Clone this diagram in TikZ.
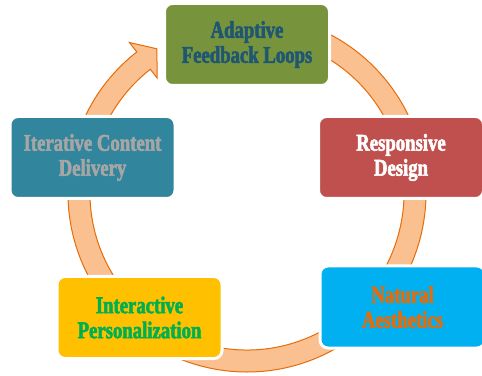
\documentclass[tikz,border=0pt]{standalone}
\usepackage{fontspec}
\usepackage{tikz}
\usetikzlibrary{
    positioning,      % For placing nodes relative to each other
    calc              % For coordinate calculations
}
% Heavy condensed face for the stage labels
\newfontfamily\stagefont[FakeStretch=0.78,FakeBold=2.2]{Liberation Serif}

\definecolor{OliveStage}{HTML}{77933C}
\definecolor{BrickStage}{HTML}{C0504D}
\definecolor{SkyStage}{HTML}{00B0F0}
\definecolor{AmberStage}{HTML}{FFC000}
\definecolor{TealStage}{HTML}{31859C}
\definecolor{DeepTeal}{HTML}{1F5773}
\definecolor{LeafGreen}{HTML}{00B050}
\definecolor{RingFill}{HTML}{FAC090}
\definecolor{RingLine}{HTML}{E46C0A}

\tikzset{
    % A rounded box for each stage of the cycle
    stage_node/.style={
        rectangle, rounded corners=8pt, draw=white, line width=3pt,
        minimum width=165pt, minimum height=82pt, inner sep=2pt,
        align=center, font=\stagefont\bfseries\fontsize{24}{25}\selectfont
    },
    % Colour variants for the stages
    olive_stage/.style={fill=OliveStage, text=DeepTeal},
    brick_stage/.style={fill=BrickStage, text=white},
    sky_stage/.style={fill=SkyStage, text=RingLine},
    amber_stage/.style={fill=AmberStage, text=LeafGreen},
    teal_stage/.style={fill=TealStage, text=black!35},
    % The broad circular arrow behind the stages
    ring_arrow/.style={fill=RingFill, draw=RingLine, line width=1pt, line join=miter}
}

\begin{document}
\begin{tikzpicture}[x=1pt, y=1pt]

\useasboundingbox (0,0) rectangle (482,375);

% --- RING ARROW ---
\coordinate (ring_center) at (247,182);
\begin{scope}[shift={(ring_center)}]
    \draw[ring_arrow] (75:157) arc[start angle=75, end angle=-232, radius=157]
        -- (-232:146) -- (-238:170) -- (-232:191) -- (-232:179)
        arc[start angle=-232, end angle=75, radius=179] -- cycle;
\end{scope}

% --- STAGE NODES ---
\node[stage_node, olive_stage] (feedback) at (247,330.5) {Adaptive\\Feedback Loops};
\node[stage_node, brick_stage] (responsive) at (401,217.5) {Responsive\\Design};
\node[stage_node, sky_stage] (aesthetics) at (402.5,68) {Natural\\Aesthetics};
\node[stage_node, amber_stage] (personal) at (139.5,57.5) {Interactive\\Personalization};
\node[stage_node, teal_stage] (delivery) at (92.5,217.5) {Iterative Content\\Delivery};

\end{tikzpicture}
\end{document}
